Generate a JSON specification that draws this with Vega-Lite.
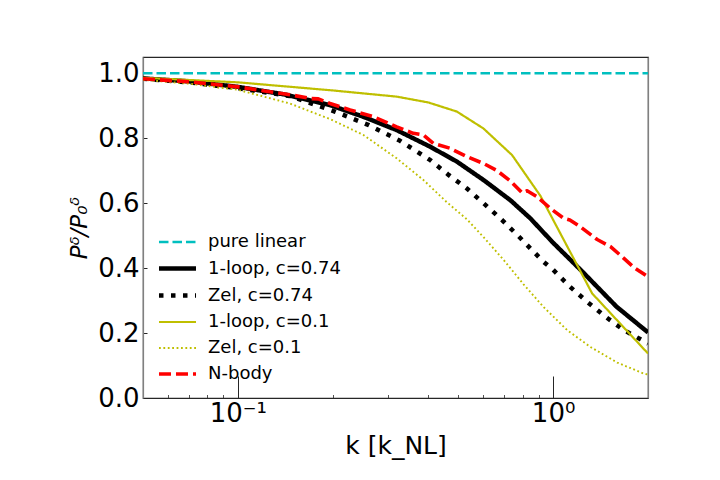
{
  "$schema": "https://vega.github.io/schema/vega-lite/v6.json",
  "width": 505,
  "height": 341,
  "autosize": {"type": "none"},
  "padding": {"left": 143, "top": 57, "right": 72, "bottom": 82},
  "background": "white",
  "config": {
    "font": "DejaVu Sans",
    "view": {"stroke": "#262626", "strokeWidth": 1.2},
    "axis": {"grid": false},
    "legend": {
      "orient": "none",
      "legendX": 25,
      "legendY": 176,
      "padding": 0,
      "symbolType": "M-2.7,0H2.7",
      "symbolSize": 188,
      "labelFontSize": 18,
      "labelColor": "black",
      "labelOffset": 21,
      "rowPadding": 8
    }
  },
  "datasets": {
    "curves": [
      {"series": "pure linear", "k": 0.05, "v": 1.0},
      {"series": "pure linear", "k": 2.0, "v": 1.0},

      {"series": "1-loop, c=0.74", "k": 0.05, "v": 0.984},
      {"series": "1-loop, c=0.74", "k": 0.07, "v": 0.975},
      {"series": "1-loop, c=0.74", "k": 0.1, "v": 0.958},
      {"series": "1-loop, c=0.74", "k": 0.14, "v": 0.935},
      {"series": "1-loop, c=0.74", "k": 0.196, "v": 0.902},
      {"series": "1-loop, c=0.74", "k": 0.25, "v": 0.866},
      {"series": "1-loop, c=0.74", "k": 0.319, "v": 0.825},
      {"series": "1-loop, c=0.74", "k": 0.407, "v": 0.774},
      {"series": "1-loop, c=0.74", "k": 0.495, "v": 0.728},
      {"series": "1-loop, c=0.74", "k": 0.602, "v": 0.671},
      {"series": "1-loop, c=0.74", "k": 0.732, "v": 0.609},
      {"series": "1-loop, c=0.74", "k": 0.847, "v": 0.553},
      {"series": "1-loop, c=0.74", "k": 1.0, "v": 0.478},
      {"series": "1-loop, c=0.74", "k": 1.23, "v": 0.392},
      {"series": "1-loop, c=0.74", "k": 1.59, "v": 0.281},
      {"series": "1-loop, c=0.74", "k": 2.0, "v": 0.202},

      {"series": "Zel, c=0.74", "k": 0.05, "v": 0.983},
      {"series": "Zel, c=0.74", "k": 0.07, "v": 0.972},
      {"series": "Zel, c=0.74", "k": 0.1, "v": 0.954},
      {"series": "Zel, c=0.74", "k": 0.146, "v": 0.93},
      {"series": "Zel, c=0.74", "k": 0.203, "v": 0.882},
      {"series": "Zel, c=0.74", "k": 0.259, "v": 0.841},
      {"series": "Zel, c=0.74", "k": 0.327, "v": 0.792},
      {"series": "Zel, c=0.74", "k": 0.407, "v": 0.733},
      {"series": "Zel, c=0.74", "k": 0.466, "v": 0.687},
      {"series": "Zel, c=0.74", "k": 0.533, "v": 0.645},
      {"series": "Zel, c=0.74", "k": 0.606, "v": 0.597},
      {"series": "Zel, c=0.74", "k": 0.689, "v": 0.548},
      {"series": "Zel, c=0.74", "k": 0.777, "v": 0.498},
      {"series": "Zel, c=0.74", "k": 0.933, "v": 0.419},
      {"series": "Zel, c=0.74", "k": 1.0, "v": 0.395},
      {"series": "Zel, c=0.74", "k": 1.127, "v": 0.344},
      {"series": "Zel, c=0.74", "k": 1.283, "v": 0.296},
      {"series": "Zel, c=0.74", "k": 1.467, "v": 0.25},
      {"series": "Zel, c=0.74", "k": 1.677, "v": 0.209},
      {"series": "Zel, c=0.74", "k": 2.0, "v": 0.168},

      {"series": "1-loop, c=0.1", "k": 0.05, "v": 0.986},
      {"series": "1-loop, c=0.1", "k": 0.1, "v": 0.972},
      {"series": "1-loop, c=0.1", "k": 0.2, "v": 0.947},
      {"series": "1-loop, c=0.1", "k": 0.319, "v": 0.928},
      {"series": "1-loop, c=0.1", "k": 0.402, "v": 0.91},
      {"series": "1-loop, c=0.1", "k": 0.495, "v": 0.882},
      {"series": "1-loop, c=0.1", "k": 0.601, "v": 0.83},
      {"series": "1-loop, c=0.1", "k": 0.741, "v": 0.748},
      {"series": "1-loop, c=0.1", "k": 0.912, "v": 0.622},
      {"series": "1-loop, c=0.1", "k": 1.33, "v": 0.322},
      {"series": "1-loop, c=0.1", "k": 2.0, "v": 0.137},

      {"series": "Zel, c=0.1", "k": 0.05, "v": 0.98},
      {"series": "Zel, c=0.1", "k": 0.07, "v": 0.968},
      {"series": "Zel, c=0.1", "k": 0.1, "v": 0.949},
      {"series": "Zel, c=0.1", "k": 0.146, "v": 0.907},
      {"series": "Zel, c=0.1", "k": 0.197, "v": 0.858},
      {"series": "Zel, c=0.1", "k": 0.25, "v": 0.81},
      {"series": "Zel, c=0.1", "k": 0.319, "v": 0.738},
      {"series": "Zel, c=0.1", "k": 0.388, "v": 0.671},
      {"series": "Zel, c=0.1", "k": 0.46, "v": 0.603},
      {"series": "Zel, c=0.1", "k": 0.533, "v": 0.55},
      {"series": "Zel, c=0.1", "k": 0.602, "v": 0.495},
      {"series": "Zel, c=0.1", "k": 0.697, "v": 0.425},
      {"series": "Zel, c=0.1", "k": 0.806, "v": 0.35},
      {"series": "Zel, c=0.1", "k": 0.933, "v": 0.28},
      {"series": "Zel, c=0.1", "k": 1.108, "v": 0.209},
      {"series": "Zel, c=0.1", "k": 1.314, "v": 0.157},
      {"series": "Zel, c=0.1", "k": 1.598, "v": 0.109},
      {"series": "Zel, c=0.1", "k": 1.941, "v": 0.075},
      {"series": "Zel, c=0.1", "k": 2.0, "v": 0.072},

      {"series": "N-body", "k": 0.05, "v": 0.983},
      {"series": "N-body", "k": 0.07, "v": 0.974},
      {"series": "N-body", "k": 0.1, "v": 0.958},
      {"series": "N-body", "k": 0.15, "v": 0.932},
      {"series": "N-body", "k": 0.17, "v": 0.922},
      {"series": "N-body", "k": 0.18, "v": 0.921},
      {"series": "N-body", "k": 0.196, "v": 0.907},
      {"series": "N-body", "k": 0.227, "v": 0.887},
      {"series": "N-body", "k": 0.269, "v": 0.866},
      {"series": "N-body", "k": 0.319, "v": 0.835},
      {"series": "N-body", "k": 0.36, "v": 0.815},
      {"series": "N-body", "k": 0.388, "v": 0.81},
      {"series": "N-body", "k": 0.417, "v": 0.784},
      {"series": "N-body", "k": 0.471, "v": 0.769},
      {"series": "N-body", "k": 0.533, "v": 0.743},
      {"series": "N-body", "k": 0.602, "v": 0.722},
      {"series": "N-body", "k": 0.664, "v": 0.7},
      {"series": "N-body", "k": 0.732, "v": 0.668},
      {"series": "N-body", "k": 0.797, "v": 0.632},
      {"series": "N-body", "k": 0.827, "v": 0.638},
      {"series": "N-body", "k": 0.889, "v": 0.62},
      {"series": "N-body", "k": 0.98, "v": 0.584},
      {"series": "N-body", "k": 1.081, "v": 0.553},
      {"series": "N-body", "k": 1.13, "v": 0.548},
      {"series": "N-body", "k": 1.221, "v": 0.527},
      {"series": "N-body", "k": 1.38, "v": 0.488},
      {"series": "N-body", "k": 1.521, "v": 0.466},
      {"series": "N-body", "k": 1.677, "v": 0.43},
      {"series": "N-body", "k": 1.805, "v": 0.402},
      {"series": "N-body", "k": 2.0, "v": 0.373}
    ],
    "frame": [{"k": 1, "v": 0.5}]
  },
  "layer": [
    {
      "data": {"name": "curves"},
      "mark": {"type": "line", "strokeCap": "butt", "strokeJoin": "round", "clip": true},
      "encoding": {
        "x": {
          "field": "k",
          "type": "quantitative",
          "scale": {"type": "log", "domain": [0.05, 2], "nice": false},
          "axis": {
            "orient": "bottom",
            "values": [0.1, 1],
            "labelExpr": "datum.value < 0.5 ? '10⁻¹' : '10⁰'",
            "labelFlush": false,
            "tickSize": -22,
            "tickWidth": 1,
            "tickColor": "#262626",
            "labelPadding": 24,
            "labelFontSize": 26,
            "labelColor": "black",
            "domainColor": "#262626",
            "domainWidth": 1.2,
            "title": "k [k_NL]",
            "titleFontSize": 25,
            "titleFontWeight": "normal",
            "titleColor": "black",
            "titleX": 252.5,
            "titleY": 55,
            "titleBaseline": "alphabetic"
          }
        },
        "y": {
          "field": "v",
          "type": "quantitative",
          "scale": {"domain": [0, 1.05], "nice": false},
          "axis": {
            "values": [0, 0.2, 0.4, 0.6, 0.8, 1.0],
            "format": ".1f",
            "tickSize": -4,
            "tickWidth": 1,
            "tickColor": "#262626",
            "labelPadding": 8,
            "labelFontSize": 26,
            "labelColor": "black",
            "domainColor": "#808080",
            "domainWidth": 1.2,
            "title": "Pᵟ/P₀ᵟ",
            "titleFontSize": 23,
            "titleFontWeight": "normal",
            "titleFontStyle": "italic",
            "titleColor": "black",
            "titleAngle": -90,
            "titleX": -57,
            "titleY": 170.5,
            "titleAlign": "center",
            "titleBaseline": "alphabetic"
          }
        },
        "color": {
          "field": "series",
          "type": "nominal",
          "scale": {
            "domain": ["pure linear", "1-loop, c=0.74", "Zel, c=0.74", "1-loop, c=0.1", "Zel, c=0.1", "N-body"],
            "range": ["#00BFBF", "#000000", "#000000", "#BFBF00", "#BFBF00", "#FF0000"]
          },
          "legend": {"title": null}
        },
        "strokeDash": {
          "field": "series",
          "type": "nominal",
          "scale": {
            "domain": ["pure linear", "1-loop, c=0.74", "Zel, c=0.74", "1-loop, c=0.1", "Zel, c=0.1", "N-body"],
            "range": [[9.5, 4], [1, 0], [4.5, 7.5], [1, 0], [1.8, 2.6], [12, 5]]
          },
          "legend": {"title": null}
        },
        "strokeWidth": {
          "field": "series",
          "type": "nominal",
          "scale": {
            "type": "ordinal",
            "domain": ["pure linear", "1-loop, c=0.74", "Zel, c=0.74", "1-loop, c=0.1", "Zel, c=0.1", "N-body"],
            "range": [2.3, 4.5, 4.5, 2.2, 1.9, 3.6]
          },
          "legend": {"title": null}
        }
      }
    },
    {
      "data": {"name": "frame"},
      "mark": {"type": "point", "opacity": 0},
      "encoding": {
        "x": {
          "field": "k",
          "type": "quantitative",
          "scale": {"type": "log", "domain": [0.05, 2], "nice": false},
          "axis": {
            "orient": "bottom",
            "values": [0.05, 0.06, 0.07, 0.08, 0.09, 0.2, 0.3, 0.4, 0.5, 0.6, 0.7, 0.8, 0.9, 2],
            "tickSize": -3.5,
            "tickWidth": 0.8,
            "tickColor": "#262626",
            "labels": false,
            "domain": false,
            "title": null
          }
        },
        "y": {
          "field": "v",
          "type": "quantitative",
          "scale": {"domain": [0, 1.05], "nice": false},
          "axis": {
            "orient": "right",
            "ticks": false,
            "labels": false,
            "domainColor": "#808080",
            "domainWidth": 1.2,
            "title": null
          }
        }
      }
    }
  ],
  "resolve": {"axis": {"x": "independent", "y": "independent"}}
}
